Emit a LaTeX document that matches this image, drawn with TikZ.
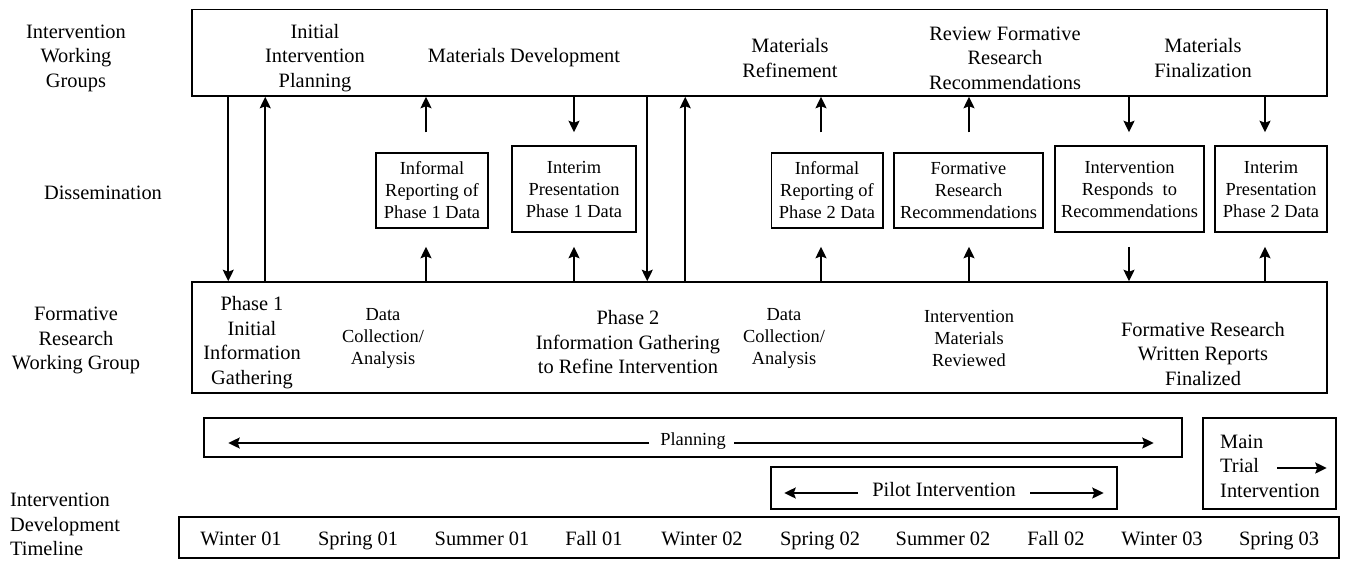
\documentclass[tikz,border=0pt]{standalone}
\usepackage{fontspec}
\setmainfont{Liberation Serif}
\usetikzlibrary{arrows.meta}
\begin{document}
\begin{tikzpicture}[x=1pt,y=-1pt,
  big/.style={font=\fontsize{20.4}{24.5}\selectfont, align=center, inner sep=0pt},
  small/.style={font=\fontsize{18.4}{22}\selectfont, align=center, inner sep=0pt},
  box/.style={draw, line width=1.5pt, inner sep=0pt, align=center},
  arr/.style={line width=1.8pt, -{Stealth[length=11.5pt,width=11pt,inset=2pt]}}]
\useasboundingbox (0,0) rectangle (1345,560);

% row labels
\node[big] (lblIWG) at (76,58) {Intervention\\Working\\Groups};
\node[big] (lblDis) at (103,193) {Dissemination};
\node[big] (lblFRWG) at (76,340.5) {Formative\\Research\\Working Group};
\node[big, align=left, anchor=west] (lblIDT) at (10,524.5) {Intervention\\Development\\Timeline};

% big boxes
\node[box, minimum width=1135pt, minimum height=86.5pt] (top) at (759.5,52.75) {};
\node[box, minimum width=1135pt, minimum height=111pt] (form) at (759.5,337.5) {};

% top box texts
\node[big] (tIIP) at (315,58) {Initial\\Intervention\\Planning};
\node[big] (tMD) at (524,58) {Materials Development};
\node[big] (tMR) at (790,58) {Materials\\Refinement};
\node[big] (tRFR) at (1005,58) {Review Formative\\Research\\Recommendations};
\node[big] (tMF) at (1203,58) {Materials\\Finalization};

% dissemination boxes
\node[box, small, minimum width=112pt, minimum height=75pt] (inf1) at (432,190.5) {Informal\\Reporting of\\Phase 1 Data};
\node[box, small, minimum width=124pt, minimum height=86pt] (int1) at (574,189) {Interim\\Presentation\\Phase 1 Data};
\node[box, small, minimum width=111.5pt, minimum height=75pt] (inf2) at (827,190.5) {Informal\\Reporting of\\Phase 2 Data};
\node[box, small, minimum width=149pt, minimum height=75pt] (frr) at (968.5,190.5) {Formative\\Research\\Recommendations};
\node[box, small, minimum width=149pt, minimum height=86pt] (irr) at (1129.5,189) {Intervention\\Responds\ \ to\\Recommendations};
\node[box, small, minimum width=112pt, minimum height=86pt] (int2) at (1271,189) {Interim\\Presentation\\Phase 2 Data};

% formative box texts
\node[big] (fP1) at (252,342.5) {Phase 1\\Initial\\Information\\Gathering};
\node[small] (fDC1) at (383,338) {Data\\Collection/\\Analysis};
\node[big] (fP2) at (628,342.5) {Phase 2\\Information Gathering\\to Refine Intervention};
\node[small] (fDC2) at (784,338) {Data\\Collection/\\Analysis};
\node[small] (fIMR) at (969,338) {Intervention\\Materials\\Reviewed};
\node[big] (fFRW) at (1203,354) {Formative Research\\Written Reports\\Finalized};

% long arrows between top and formative boxes
\draw[arr] ([xshift=37pt]top.south west) -- ([xshift=37pt]form.north west);
\draw[arr] ([xshift=74pt]form.north west) -- ([xshift=74pt]top.south west);
\draw[arr] ([xshift=456pt]top.south west) -- ([xshift=456pt]form.north west);
\draw[arr] ([xshift=494pt]form.north west) -- ([xshift=494pt]top.south west);

% arrow columns
\coordinate (c1) at (426,0);
\coordinate (c2) at (574,0);
\coordinate (c3) at (821,0);
\coordinate (c4) at (969,0);
\coordinate (c5) at (1129,0);
\coordinate (c6) at (1265,0);

% upper small arrows
\draw[arr, shorten <=20pt] (c1 |- inf1.north) -- (c1 |- top.south);
\draw[arr, shorten >=13pt] (c2 |- top.south) -- (c2 |- int1.north);
\draw[arr, shorten <=20pt] (c3 |- inf2.north) -- (c3 |- top.south);
\draw[arr, shorten <=20pt] (c4 |- frr.north) -- (c4 |- top.south);
\draw[arr, shorten >=13pt] (c5 |- top.south) -- (c5 |- irr.north);
\draw[arr, shorten >=13pt] (c6 |- top.south) -- (c6 |- int2.north);

% lower small arrows
\draw[arr, shorten >=18pt] (c1 |- form.north) -- (c1 |- inf1.south);
\draw[arr, shorten >=14pt] (c2 |- form.north) -- (c2 |- int1.south);
\draw[arr, shorten >=18pt] (c3 |- form.north) -- (c3 |- inf2.south);
\draw[arr, shorten >=18pt] (c4 |- form.north) -- (c4 |- frr.south);
\draw[arr, shorten <=14pt] (c5 |- irr.south) -- (c5 |- form.north);
\draw[arr, shorten >=14pt] (c6 |- form.north) -- (c6 |- int2.south);

% planning
\node[box, minimum width=978pt, minimum height=39pt] (planbox) at (693,437.5) {};
\node[small, anchor=base] (plan) at (693,445) {Planning};
\coordinate (plA) at (649,443);
\coordinate (plB) at (734,443);
\draw[arr, shorten >=25pt] (plA) -- (plA -| planbox.west);
\draw[arr, shorten >=29pt] (plB) -- (plB -| planbox.east);

% pilot
\node[box, minimum width=346pt, minimum height=42pt] (pilot) at (944,488) {};
\node[big, anchor=base] (ptext) at (944,496) {Pilot Intervention};
\coordinate (piA) at (858,493);
\coordinate (piB) at (1030,493);
\draw[arr, shorten >=14pt] (piA) -- (piA -| pilot.west);
\draw[arr, shorten >=14pt] (piB) -- (piB -| pilot.east);

% main trial
\node[box, minimum width=133pt, minimum height=91pt] (main) at (1269.5,463.5) {};
\node[big, align=left, anchor=west] (mtext) at (1220,466) {Main\\Trial\\Intervention};
\coordinate (mA) at (1277,468);
\draw[arr, shorten >=10pt] (mA) -- (mA -| main.east);

% timeline
\node[box, minimum width=1160pt, minimum height=41pt] (tl) at (759,537.5) {};
\foreach \x/\t [count=\i] in {241/Winter 01, 358/Spring 01, 482/Summer 01, 594/Fall 01, 702/Winter 02, 820/Spring 02, 943/Summer 02, 1056/Fall 02, 1162/Winter 03, 1279/Spring 03}
  \node[big, anchor=base] (s\i) at (\x,545) {\t};
\end{tikzpicture}
\end{document}
